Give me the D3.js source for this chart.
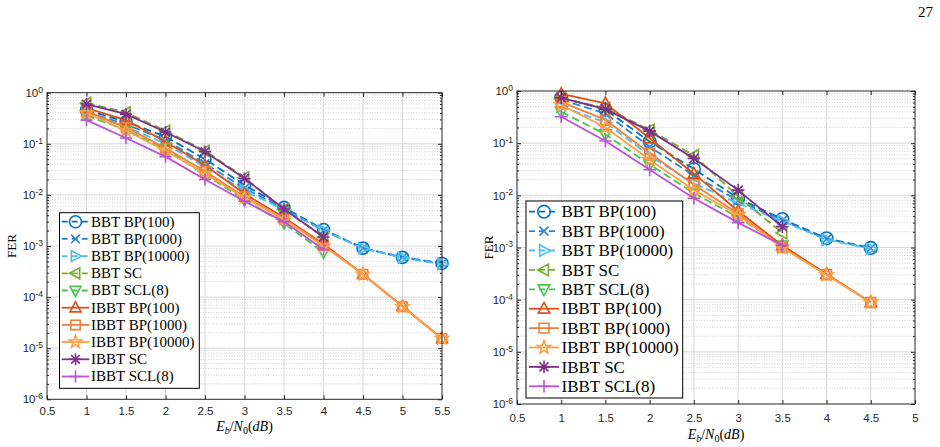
<!DOCTYPE html>
<html>
<head>
<meta charset="utf-8">
<script src="https://cdn.jsdelivr.net/npm/d3@7"></script>
<style>
body{margin:0;background:#fff}
svg{display:block}
</style>
</head>
<body>
<div id="chart"></div>
<script>
// ---- data ----
var series_names = ["BBT BP(100)", "BBT BP(1000)", "BBT BP(10000)", "BBT SC", "BBT SCL(8)",
                    "IBBT BP(100)", "IBBT BP(1000)", "IBBT BP(10000)", "IBBT SC", "IBBT SCL(8)"];

// left panel
var left_x_bp = [1, 1.5, 2, 2.5, 3, 3.5, 4, 4.5, 5, 5.5];
var left_x_sc = [1, 1.5, 2, 2.5, 3, 3.5, 4];
var left_bbt_bp100   = [0.46, 0.27, 0.138, 0.050, 0.0156, 0.0057, 0.0021, 0.00091, 0.00060, 0.00046];
var left_bbt_bp1000  = [0.42, 0.24, 0.118, 0.041, 0.0135, 0.0054, 0.0020, 0.00091, 0.00060, 0.00045];
var left_bbt_bp10000 = [0.38, 0.215, 0.100, 0.035, 0.0122, 0.0051, 0.0020, 0.00090, 0.00059, 0.00044];
var left_bbt_sc      = [0.63, 0.41, 0.18, 0.073, 0.022, 0.0052, 0.0015];
var left_bbt_scl     = [0.36, 0.185, 0.078, 0.025, 0.0080, 0.0028, 0.00075];
var left_ibbt_bp100   = [0.50, 0.29, 0.11, 0.038, 0.0105, 0.0036, 0.0011, 0.00028, 6.6e-5, 1.55e-5];
var left_ibbt_bp1000  = [0.43, 0.21, 0.083, 0.029, 0.0092, 0.0034, 0.00105, 0.00028, 6.5e-5, 1.55e-5];
var left_ibbt_bp10000 = [0.40, 0.18, 0.073, 0.026, 0.0088, 0.0033, 0.0010, 0.00028, 6.5e-5, 1.55e-5];
var left_ibbt_sc      = [0.60, 0.38, 0.17, 0.070, 0.021, 0.0053, 0.0015];
var left_ibbt_scl     = [0.29, 0.13, 0.056, 0.020, 0.0075, 0.0030, 0.00085];

// right panel
var right_x_bp = [1, 1.5, 2, 2.5, 3, 3.5, 4, 4.5];
var right_x_sc = [1, 1.5, 2, 2.5, 3, 3.5];
var right_bbt_bp100   = [0.75, 0.44, 0.107, 0.032, 0.0088, 0.0035, 0.0015, 0.00098];
var right_bbt_bp1000  = [0.68, 0.37, 0.085, 0.024, 0.0079, 0.0033, 0.00145, 0.00097];
var right_bbt_bp10000 = [0.50, 0.25, 0.057, 0.017, 0.0070, 0.0032, 0.0014, 0.00095];
var right_bbt_sc      = [0.73, 0.47, 0.18, 0.058, 0.0095, 0.0019];
var right_bbt_scl     = [0.40, 0.148, 0.039, 0.011, 0.0038, 0.0011];
var right_ibbt_bp100   = [0.88, 0.58, 0.124, 0.026, 0.0050, 0.0011, 0.00031, 8.9e-5];
var right_ibbt_bp1000  = [0.62, 0.28, 0.064, 0.016, 0.0045, 0.0010, 0.00030, 8.8e-5];
var right_ibbt_bp10000 = [0.54, 0.20, 0.048, 0.0127, 0.0042, 0.0010, 0.00030, 8.8e-5];
var right_ibbt_sc      = [0.74, 0.45, 0.17, 0.051, 0.0126, 0.0025];
var right_ibbt_scl     = [0.32, 0.11, 0.031, 0.0088, 0.0030, 0.0011];

var x_ticks_left  = [0.5, 1, 1.5, 2, 2.5, 3, 3.5, 4, 4.5, 5, 5.5];
var x_ticks_right = [0.5, 1, 1.5, 2, 2.5, 3, 3.5, 4, 4.5, 5];
var y_ticks = [1, 1e-1, 1e-2, 1e-3, 1e-4, 1e-5, 1e-6];

// ---- styles ----
var colors = ["#0072BD", "#2a86d4", "#4DBEEE", "#77AC30", "#45c845",
              "#D95319", "#F07F3C", "#FFA045", "#7E2F8E", "#BC52D8"];
var dashes = ["8,4", "8,4", "8,4", "8,4", "8,4", null, null, null, null, null];

// marker shapes, size = radius in px
function tri(rot){
    return {draw: function(c, r){
        var pts = [[0, -r], [0.92*r, 0.7*r], [-0.92*r, 0.7*r]];
        var a = rot*Math.PI/180;
        pts = pts.map(function(p){ return [p[0]*Math.cos(a) - p[1]*Math.sin(a), p[0]*Math.sin(a) + p[1]*Math.cos(a)]; });
        c.moveTo(pts[0][0], pts[0][1]); c.lineTo(pts[1][0], pts[1][1]); c.lineTo(pts[2][0], pts[2][1]); c.closePath();
    }};
}
var m_circle = {draw: function(c, r){ c.moveTo(r, 0); c.arc(0, 0, r, 0, 2*Math.PI); }};
var m_times = {draw: function(c, r){ var a = r*0.72; c.moveTo(-a, -a); c.lineTo(a, a); c.moveTo(a, -a); c.lineTo(-a, a); }};
var m_square = {draw: function(c, r){ var a = r*0.78; c.rect(-a, -a, 2*a, 2*a); }};
var m_star = {draw: function(c, r){
    for (var k = 0; k < 10; k++){
        var rr = k%2 == 0 ? r*1.1 : r*0.45;
        var a = -Math.PI/2 + k*Math.PI/5;
        if (k == 0) c.moveTo(rr*Math.cos(a), rr*Math.sin(a)); else c.lineTo(rr*Math.cos(a), rr*Math.sin(a));
    }
    c.closePath();
}};
var m_aster = {draw: function(c, r){
    var a = r*0.72;
    c.moveTo(-r, 0); c.lineTo(r, 0); c.moveTo(0, -r); c.lineTo(0, r);
    c.moveTo(-a, -a); c.lineTo(a, a); c.moveTo(a, -a); c.lineTo(-a, a);
}};
var m_plus = {draw: function(c, r){ c.moveTo(-r, 0); c.lineTo(r, 0); c.moveTo(0, -r); c.lineTo(0, r); }};
var markers = [m_circle, m_times, tri(90), tri(-90), tri(180), tri(0), m_square, m_star, m_aster, m_plus];

var svg = d3.select("#chart").append("svg")
            .attr("width", 940)
            .attr("height", 447)
            .style("background", "#fff");

var sans = "'Liberation Sans', Arial, Helvetica, sans-serif";
var serif = "'Liberation Serif', 'Times New Roman', serif";
var ink = "#262626";

function draw_panel(p){
    var g = svg.append("g");
    var xScale = d3.scaleLinear().domain([0.5, p.xmax]).range([p.left, p.right]);
    var yScale = d3.scaleLog().domain([1e-6, 1]).range([p.bottom, p.top]);

    var minors = [];
    for (var e = -6; e < 0; e++)
        for (var k = 2; k < 10; k++) minors.push(k*Math.pow(10, e));

    // grid
    g.selectAll(".minor").data(minors).enter().append("line")
        .attr("x1", p.left).attr("x2", p.right)
        .attr("y1", function(d){ return yScale(d); })
        .attr("y2", function(d){ return yScale(d); })
        .attr("stroke", "#c4c4c4").attr("stroke-width", 0.8)
        .attr("stroke-dasharray", "1,1.6");
    g.selectAll(".ymajor").data(y_ticks.slice(1, -1)).enter().append("line")
        .attr("x1", p.left).attr("x2", p.right)
        .attr("y1", function(d){ return yScale(d); })
        .attr("y2", function(d){ return yScale(d); })
        .attr("stroke", "#d8d8d8").attr("stroke-width", 1);
    g.selectAll(".xmajor").data(p.xticks.slice(1, -1)).enter().append("line")
        .attr("y1", p.top).attr("y2", p.bottom)
        .attr("x1", function(d){ return xScale(d); })
        .attr("x2", function(d){ return xScale(d); })
        .attr("stroke", "#d8d8d8").attr("stroke-width", 1);

    // curves
    var line = d3.line()
        .x(function(d){ return xScale(d[0]); })
        .y(function(d){ return yScale(d[1]); });
    p.series.forEach(function(s, i){
        var pts = s.x.map(function(x, j){ return [x, s.y[j]]; });
        g.append("path")
            .attr("d", line(pts))
            .attr("fill", "none")
            .attr("stroke", colors[i])
            .attr("stroke-width", 1.8)
            .attr("stroke-dasharray", dashes[i]);
        g.selectAll(null).data(pts).enter().append("path")
            .attr("transform", function(d){ return "translate(" + xScale(d[0]) + "," + yScale(d[1]) + ")"; })
            .attr("d", d3.symbol(markers[i], p.msize))
            .attr("fill", "none")
            .attr("stroke", colors[i])
            .attr("stroke-width", 1.6);
    });

    // axes (ticks point inwards)
    g.append("g").attr("transform", "translate(0," + p.bottom + ")")
        .call(d3.axisBottom(xScale).tickValues(p.xticks).tickSizeInner(-4).tickSizeOuter(0)
              .tickPadding(p.xpad).tickFormat(d3.format("")));
    g.append("g").attr("transform", "translate(0," + p.top + ")")
        .call(d3.axisTop(xScale).tickValues(p.xticks).tickSizeInner(-4).tickSizeOuter(0).tickFormat(""));
    var yl = g.append("g").attr("transform", "translate(" + p.left + ",0)")
        .call(d3.axisLeft(yScale).tickValues(y_ticks).tickSizeInner(-4).tickSizeOuter(0).tickPadding(4));
    g.append("g").attr("transform", "translate(" + p.right + ",0)")
        .call(d3.axisRight(yScale).tickValues(y_ticks).tickSizeInner(-4).tickSizeOuter(0).tickFormat(""));
    g.append("g").attr("transform", "translate(" + p.left + ",0)")
        .call(d3.axisLeft(yScale).tickValues(minors).tickSizeInner(-2).tickSizeOuter(0).tickFormat(""));
    g.append("g").attr("transform", "translate(" + p.right + ",0)")
        .call(d3.axisRight(yScale).tickValues(minors).tickSizeInner(-2).tickSizeOuter(0).tickFormat(""));

    g.selectAll(".domain").remove();
    g.selectAll(".tick line").attr("stroke", ink);
    g.selectAll(".tick text").attr("fill", ink).style("font-family", sans).style("font-size", "11.5px");

    yl.selectAll(".tick text").each(function(d){
        var t = d3.select(this);
        t.text("10");
        t.append("tspan").attr("dy", "-0.5em").style("font-size", "8.5px")
            .text(Math.round(Math.log10(d)));
    });

    g.append("rect")
        .attr("x", p.left).attr("y", p.top)
        .attr("width", p.right - p.left).attr("height", p.bottom - p.top)
        .attr("fill", "none").attr("stroke", ink).attr("stroke-width", 1);

    // axis labels
    var xl = g.append("text")
        .attr("x", (p.left + p.right)/2).attr("y", p.xlabel_y)
        .attr("text-anchor", "middle")
        .style("font-family", serif).style("font-size", "14px").attr("fill", "#000");
    xl.append("tspan").style("font-style", "italic").text("E");
    xl.append("tspan").style("font-style", "italic").style("font-size", "10px").attr("dy", 3).text("b");
    xl.append("tspan").attr("dy", -3).text("/");
    xl.append("tspan").style("font-style", "italic").text("N");
    xl.append("tspan").style("font-size", "10px").attr("dy", 3).text("0");
    xl.append("tspan").attr("dy", -3).text("(");
    xl.append("tspan").style("font-style", "italic").text("dB");
    xl.append("tspan").text(")");

    g.append("text")
        .attr("transform", "translate(" + p.ylabel_x + "," + (p.top + p.bottom)/2 + ") rotate(-90)")
        .attr("text-anchor", "middle")
        .style("font-family", serif).style("font-size", "13px").attr("fill", "#000")
        .text("FER");

    // legend
    var L = p.legend;
    g.append("rect")
        .attr("x", L.x0).attr("y", L.y0)
        .attr("width", L.x1 - L.x0).attr("height", L.y1 - L.y0)
        .attr("fill", "#fff").attr("stroke", "#000").attr("stroke-width", 1);
    series_names.forEach(function(name, i){
        var y = L.first + i*L.step;
        g.append("line")
            .attr("x1", L.lx0).attr("x2", L.lx1).attr("y1", y).attr("y2", y)
            .attr("stroke", colors[i]).attr("stroke-width", 1.8)
            .attr("stroke-dasharray", dashes[i] ? "6,4" : null);
        g.append("path")
            .attr("transform", "translate(" + (L.lx0 + L.lx1)/2 + "," + y + ")")
            .attr("d", d3.symbol(markers[i], p.msize))
            .attr("fill", "none").attr("stroke", colors[i]).attr("stroke-width", 1.6);
        g.append("text")
            .attr("x", L.tx).attr("y", y).attr("dy", "0.33em")
            .style("font-family", serif).style("font-size", L.font + "px").attr("fill", "#000")
            .text(name);
    });
}

function make_series(xbp, xsc, arrays){
    return arrays.map(function(a, i){
        var bp = [0, 1, 2, 5, 6, 7].indexOf(i) >= 0;
        return {x: bp ? xbp : xsc, y: a};
    });
}

draw_panel({
    left: 47, right: 442, top: 92.7, bottom: 399.3, xmax: 5.5,
    xticks: x_ticks_left, xpad: 8, xlabel_y: 431, ylabel_x: 16, msize: 6,
    series: make_series(left_x_bp, left_x_sc,
        [left_bbt_bp100, left_bbt_bp1000, left_bbt_bp10000, left_bbt_sc, left_bbt_scl,
         left_ibbt_bp100, left_ibbt_bp1000, left_ibbt_bp10000, left_ibbt_sc, left_ibbt_scl]),
    legend: {x0: 59.5, y0: 212.7, x1: 199.3, y1: 388.3, first: 221.7, step: 17.2,
             lx0: 61.7, lx1: 89.3, tx: 91, font: 15}
});

draw_panel({
    left: 517, right: 915, top: 91, bottom: 404, xmax: 5,
    xticks: x_ticks_right, xpad: 10, xlabel_y: 439, ylabel_x: 493, msize: 6.3,
    series: make_series(right_x_bp, right_x_sc,
        [right_bbt_bp100, right_bbt_bp1000, right_bbt_bp10000, right_bbt_sc, right_bbt_scl,
         right_ibbt_bp100, right_ibbt_bp1000, right_ibbt_bp10000, right_ibbt_sc, right_ibbt_scl]),
    legend: {x0: 526, y0: 201, x1: 682.7, y1: 398, first: 211.7, step: 19.4,
             lx0: 529, lx1: 559, tx: 561.5, font: 17}
});

svg.append("text")
    .attr("x", 933).attr("y", 17)
    .attr("text-anchor", "end")
    .style("font-family", serif).style("font-size", "15px").attr("fill", "#000")
    .text("27");
</script>
</body>
</html>
